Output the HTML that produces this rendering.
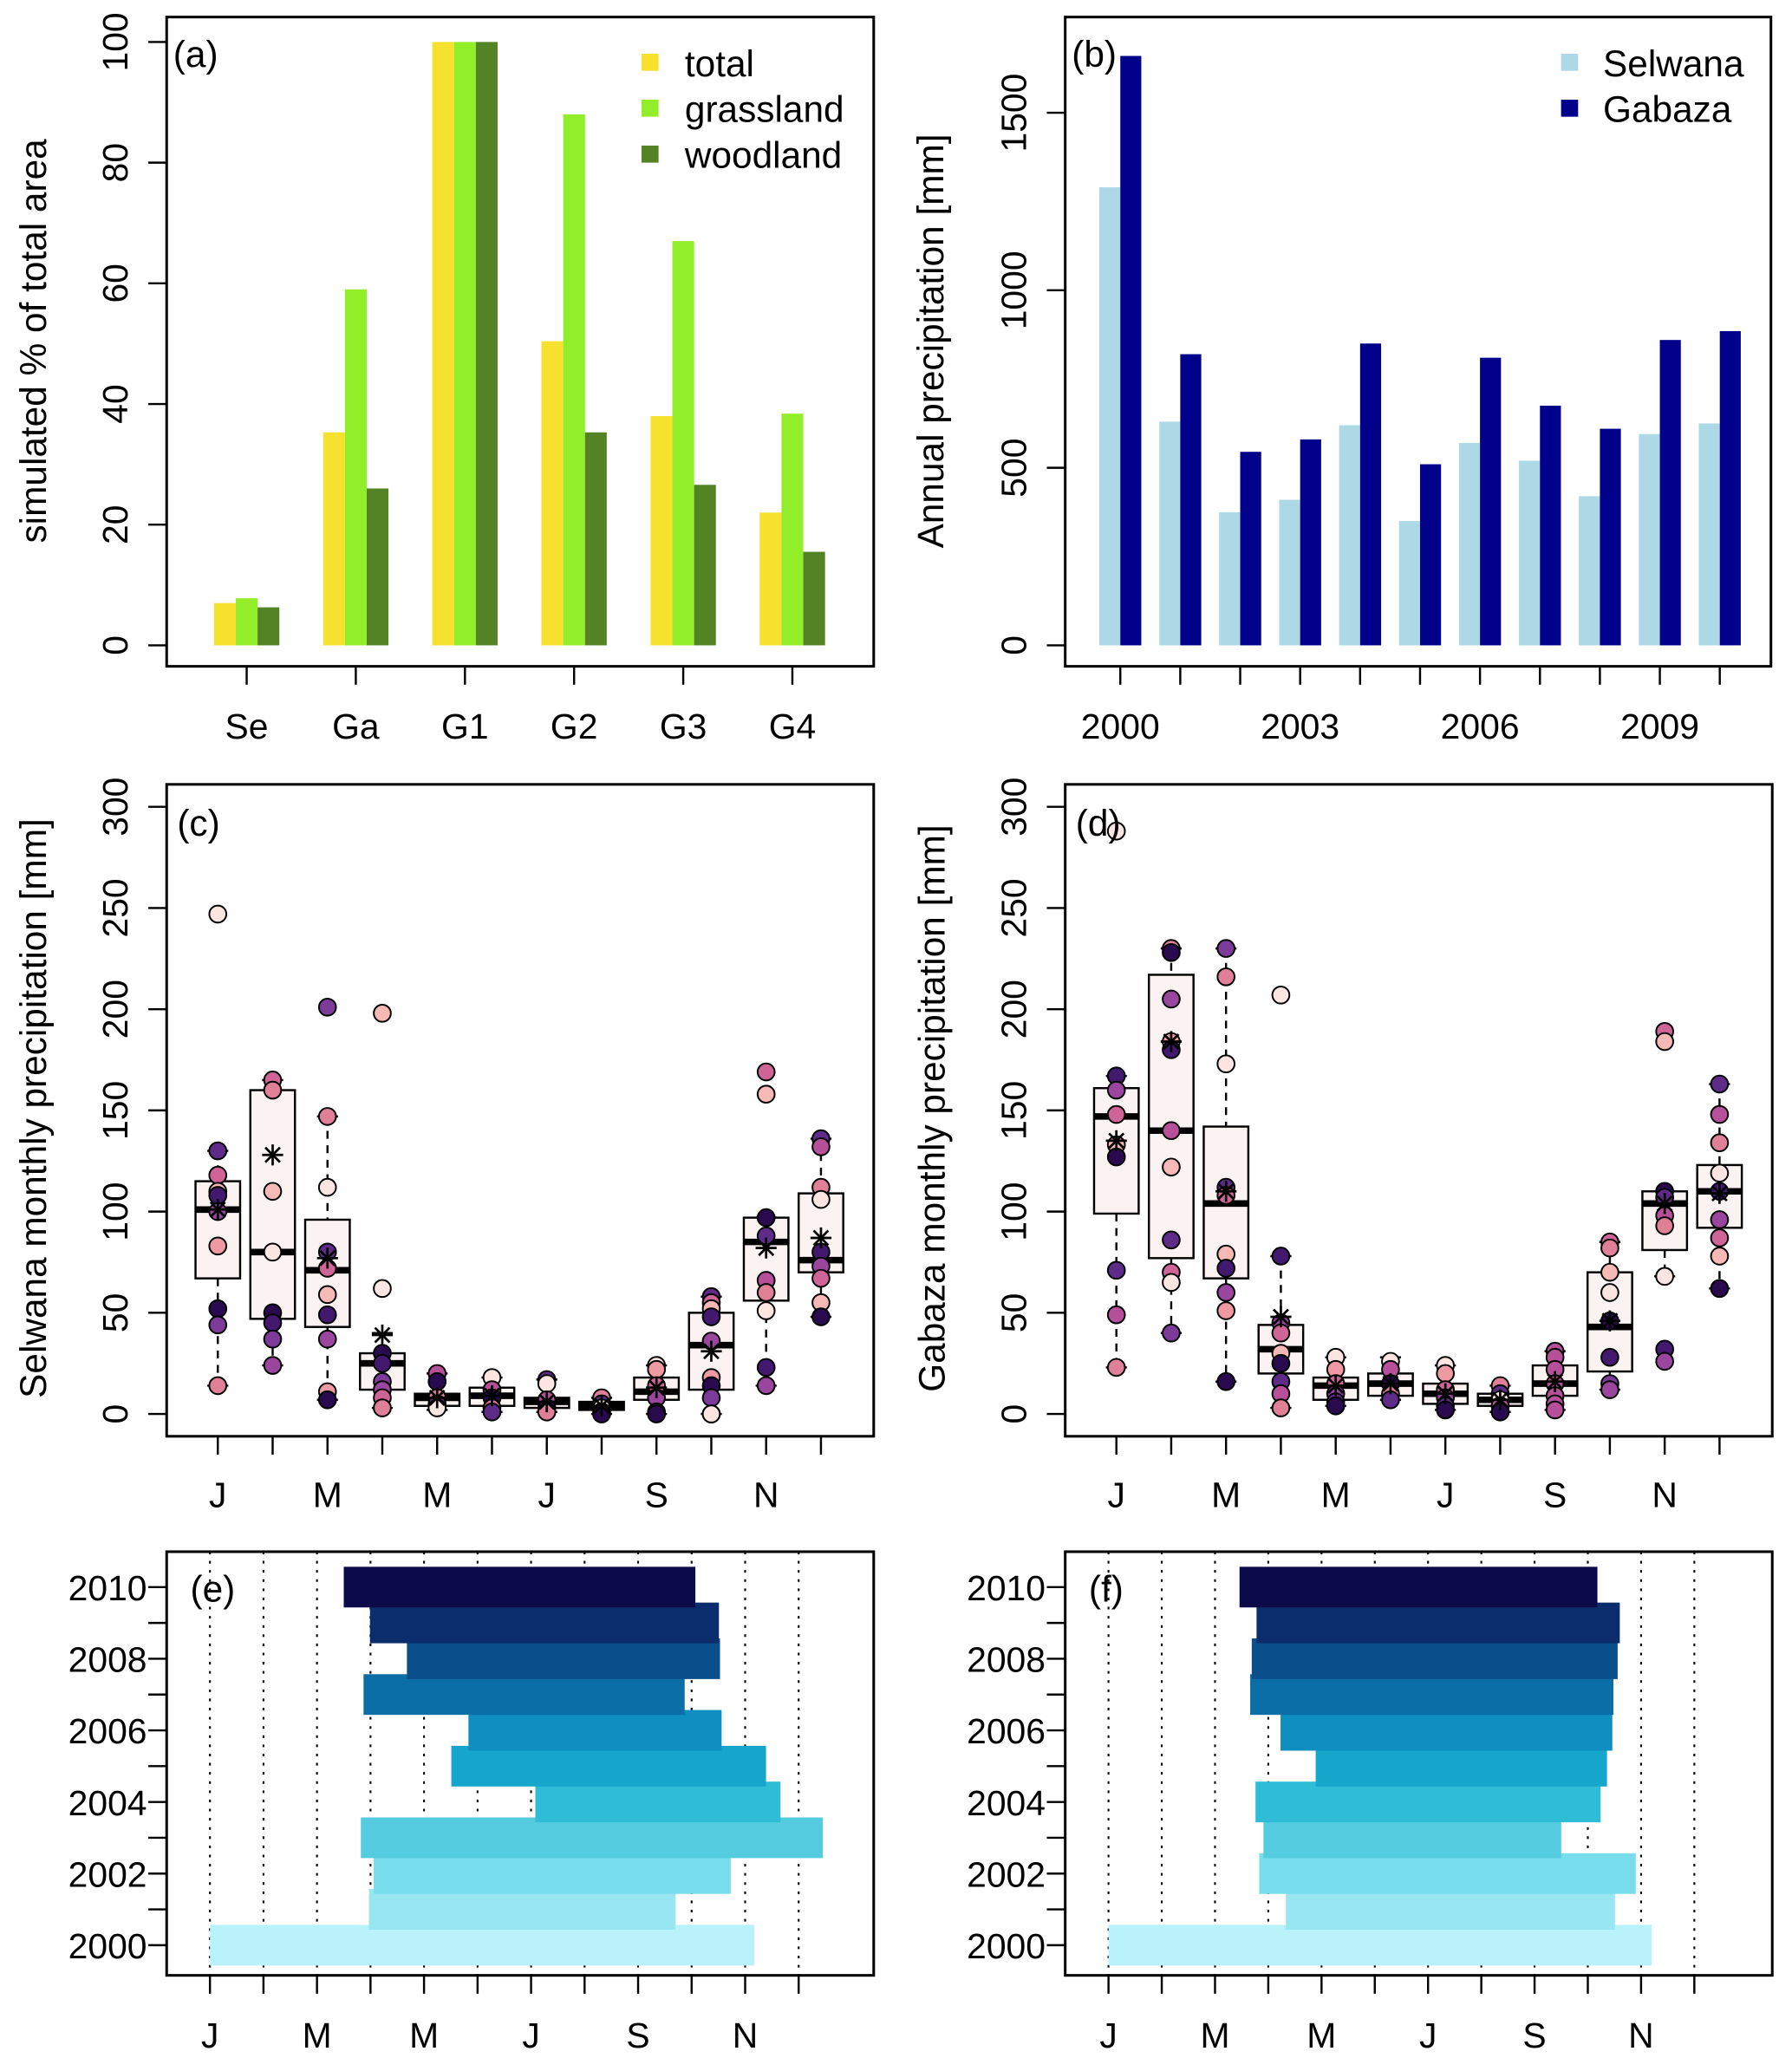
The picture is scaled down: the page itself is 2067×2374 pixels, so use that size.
<!DOCTYPE html>
<html><head><meta charset="utf-8">
<style>
html,body{margin:0;padding:0;background:#fff;}
svg{display:block;font-family:"Liberation Sans",sans-serif;}
</style></head>
<body>
<svg id="fig" width="2067" height="2374" viewBox="0 0 1366 1569" xmlns="http://www.w3.org/2000/svg"></svg>
<script>
// ---------- data ----------
const catA = ["Se","Ga","G1","G2","G3","G4"];
const totalA = [7,35.3,100,50.4,38,22];
const grassA = [7.8,59,100,88,67,38.4];
const woodA = [6.3,26,100,35.3,26.6,15.5];
const yearsB = [2000,2001,2002,2003,2004,2005,2006,2007,2008,2009,2010];
const selwanaB = [1290,630,375,410,620,350,570,520,420,595,625];
const gabazaB = [1660,820,545,580,850,510,810,675,610,860,885];
const monthLabels = ["J","","M","","M","","J","","S","","N",""];
// panel c: per month box stats
const cLo=[14,24,7,3,2,1,1,0,0,0,14,48];
const cQ1=[67,47,43,12,4,4,3,2,7,12,56,70];
const cMed=[101,80,71,25,8,9,6,4,11,34,85,76];
const cQ3=[115,160,96,30,10,13,8,6,18,50,97,109];
const cHi=[130,165,147,40,20,18,17,8,24,58,97,136];
const cMean=[101,128,77,39,8,9,6,4,13,31,82,87];
const cPts=[[247,130,118,110,108,100,83,52,44,14],[165,160,110,80,50,45,37,24],[201,147,112,80,72,59,49,37,11,7],[198,62,30,25,16,12,8,3],[20,16,8,5,3],[18,12,8,3,1],[17,15,7,3,1],[8,5,3,1,0],[24,22,14,8,1,0],[58,55,52,48,36,18,14,8,0,0],[169,158,97,88,66,60,51,23,14],[136,132,112,106,80,73,67,55,48]];
// panel d
const dLo=[23,40,16,3,4,7,2,1,2,12,68,62];
const dQ1=[99,77,67,20,7,9,5,4,9,21,81,92];
const dMed=[147,140,104,32,14,15,10,7,15,43,104,110];
const dQ3=[161,217,142,44,18,20,15,10,24,70,110,123];
const dHi=[167,230,230,78,28,28,24,14,31,85,110,163];
const dMean=[135,184,110,48,14,15,10,7,16,46,104,109];
const dPts=[[288,167,160,148,133,127,71,49,23],[230,228,205,184,180,140,122,86,70,65,40],[230,216,173,112,108,79,72,60,51,16],[207,78,45,40,30,25,16,10,3],[28,22,15,10,6,4],[26,22,15,10,7],[24,20,12,8,4,2],[14,10,7,4,1],[31,28,22,15,9,5,2],[85,82,70,60,46,28,15,12],[189,184,110,107,98,93,68,32,26],[163,148,134,119,110,96,87,78,62]];
// panels e,f: season start/end (months from Jan)
const eStart=[0,2.97,3.06,2.82,6.08,4.51,4.83,2.87,3.68,2.99,2.5];
const eEnd=[10.17,8.7,9.73,11.45,10.66,10.39,9.56,8.87,9.53,9.51,9.07];
const fStart=[0,3.33,2.83,2.91,2.76,3.89,3.23,2.66,2.69,2.78,2.46];
const fEnd=[10.2,9.51,9.9,8.5,9.24,9.36,9.46,9.48,9.56,9.6,9.18];

// ---------- helpers ----------
const NS="http://www.w3.org/2000/svg";
const svg=document.getElementById('fig');
const TS=27, AS=28;
function mk(tag,attrs,parent){const e=document.createElementNS(NS,tag);for(const k in attrs)e.setAttribute(k,attrs[k]);(parent||svg).appendChild(e);return e;}
function txt(s,x,y,size,anchor,rot,parent){const t=mk('text',{x:x,y:y,'font-size':size,'text-anchor':anchor||'middle',fill:'#000'},parent);if(rot)t.setAttribute('transform','rotate(-90 '+x+' '+y+')');t.textContent=s;return t;}
function frame(x0,y0,x1,y1,name){const r=mk('rect',{x:x0,y:y0,width:x1-x0,height:y1-y0,fill:'none',stroke:'#000','stroke-width':2});}
const pinkPal=["#fde6e2","#f6b9b6","#ef9aa3","#e07f98","#cf6596","#b7509a","#9a459e","#7c3b98","#5e2c88","#43196f","#2a0a4e"];
const bluePal=["#b9f2fb","#97e6f1","#77dcec","#55cbdf","#2ebcd6","#16a5cb","#0f8ec0","#0b6ea7","#0a4f8b","#0c2d6c","#0c0a48"];

// ---------- panel a ----------
(function(){
 const g=mk('g',{});
 const y=v=>492-v*4.6; const xc=i=>188+i*83.2; const bw=16.6;
 const cols=["#f5e12e","#93ee2a","#548325"]; const series=[totalA,grassA,woodA]; const sn=['total','grassland','woodland'];
 series.forEach((s,k)=>s.forEach((v,i)=>{const r=mk('rect',{x:xc(i)-bw*1.5+k*bw,y:y(v),width:bw,height:y(0)-y(v),fill:cols[k]},g);
  }));
 frame(127,13,666,508,'panel-a-frame');
 const ya=mk('g',{},g);
 [0,20,40,60,80,100].forEach(v=>{mk('line',{x1:113,x2:127,y1:y(v),y2:y(v),stroke:'#000','stroke-width':1.6},ya);txt(String(v),97,y(v),TS,'middle',true,ya);});
 catA.forEach((c,i)=>{mk('line',{x1:xc(i),x2:xc(i),y1:508,y2:522,stroke:'#000','stroke-width':1.6},g);const t=txt(c,xc(i),563,TS,'middle',false,g);});
 const at=txt('simulated % of total area',35,260,AS,'middle',true,g);
 const pl=txt('(a)',132,51,AS,'start',false,g);
 sn.forEach((n,k)=>{const le=mk('g',{},g);
  mk('rect',{x:489,y:41+k*35,width:13,height:13,fill:cols[k]},le);txt(n,522,58+k*35,AS,'start',false,le);});
})();

// ---------- panel b ----------
(function(){
 const g=mk('g',{});
 const y=v=>492-v*0.2707; const x=yr=>854+(yr-2000)*45.7;
 yearsB.forEach((yr,i)=>{
  let r=mk('rect',{x:x(yr)-16,y:y(selwanaB[i]),width:16,height:y(0)-y(selwanaB[i]),fill:'#add8e6'},g);
  
  r=mk('rect',{x:x(yr),y:y(gabazaB[i]),width:16,height:y(0)-y(gabazaB[i]),fill:'#00008b'},g);
  
  mk('line',{x1:x(yr),x2:x(yr),y1:508,y2:522,stroke:'#000','stroke-width':1.6},g);
  if((yr-2000)%3===0)txt(String(yr),x(yr),563,TS,'middle',false,g);
 });
 frame(812,13,1350,508,'panel-b-frame');
 [0,500,1000,1500].forEach(v=>{mk('line',{x1:798,x2:812,y1:y(v),y2:y(v),stroke:'#000','stroke-width':1.6},g);txt(String(v),782,y(v),TS,'middle',true,g);});
 const at=txt('Annual precipitation [mm]',719,260,AS,'middle',true,g);
 const pl=txt('(b)',817,51,AS,'start',false,g);
 [['Selwana','#add8e6'],['Gabaza','#00008b']].forEach((e,k)=>{const le=mk('g',{},g);
  mk('rect',{x:1190,y:41+k*35,width:13,height:13,fill:e[1]},le);txt(e[0],1222,58+k*35,AS,'start',false,le);});
})();

// ---------- panels c,d ----------
function boxPanel(ox,lo,q1,med,q3,hi,mean,pts,tag,title){
 const g=mk('g',{});
 const y=v=>1078-v*1.543; const x=i=>ox+39+i*41.8; const bw=17;
 for(let i=0;i<12;i++){
  const bg=mk('g',{},g);
  mk('line',{x1:x(i),x2:x(i),y1:y(hi[i]),y2:y(q3[i]),stroke:'#000','stroke-width':1.6,'stroke-dasharray':'6,5'},bg);
  mk('line',{x1:x(i),x2:x(i),y1:y(q1[i]),y2:y(lo[i]),stroke:'#000','stroke-width':1.6,'stroke-dasharray':'6,5'},bg);
  mk('line',{x1:x(i)-8,x2:x(i)+8,y1:y(hi[i]),y2:y(hi[i]),stroke:'#000','stroke-width':1.6},bg);
  mk('line',{x1:x(i)-8,x2:x(i)+8,y1:y(lo[i]),y2:y(lo[i]),stroke:'#000','stroke-width':1.6},bg);
  mk('rect',{x:x(i)-bw,y:y(q3[i]),width:2*bw,height:y(q1[i])-y(q3[i]),fill:'#fbf3f2',stroke:'#000','stroke-width':1.6},bg);
  mk('line',{x1:x(i)-bw,x2:x(i)+bw,y1:y(med[i]),y2:y(med[i]),stroke:'#000','stroke-width':5},bg);
  const n=pts[i].length;
  pts[i].forEach((v,k)=>{const ci=Math.round(((k*7+i*3)%n)/Math.max(1,n-1)*10);
   const c=mk('circle',{cx:x(i),cy:y(v),r:6.5,fill:pinkPal[ci],stroke:'#000','stroke-width':1.3},bg);
   });
  const my=y(mean[i]),mx=x(i),s=8;
  const mg=mk('g',{stroke:'#000','stroke-width':1.8},bg);
  mk('line',{x1:mx-s,x2:mx+s,y1:my,y2:my},mg);mk('line',{x1:mx,x2:mx,y1:my-s,y2:my+s},mg);
  mk('line',{x1:mx-s*.7,x2:mx+s*.7,y1:my-s*.7,y2:my+s*.7},mg);mk('line',{x1:mx-s*.7,x2:mx+s*.7,y1:my+s*.7,y2:my-s*.7},mg);
  mk('line',{x1:x(i),x2:x(i),y1:1095,y2:1109,stroke:'#000','stroke-width':1.6},g);
  if(monthLabels[i])txt(monthLabels[i],x(i),1149,TS,'middle',false,g);
 }
 frame(ox,598,ox+539,1095,'panel-'+tag+'-frame');
 [0,50,100,150,200,250,300].forEach(v=>{mk('line',{x1:ox-14,x2:ox,y1:y(v),y2:y(v),stroke:'#000','stroke-width':1.6},g);txt(String(v),ox-30,y(v),TS,'middle',true,g);});
 const at=txt(title,ox-92,845,AS,'middle',true,g);
 const pl=txt('('+tag+')',ox+8,637,AS,'start',false,g);
}
boxPanel(127,cLo,cQ1,cMed,cQ3,cHi,cMean,cPts,'c','Selwana monthly precipitation [mm]');
boxPanel(812,dLo,dQ1,dMed,dQ3,dHi,dMean,dPts,'d','Gabaza monthly precipitation [mm]');

// ---------- panels e,f ----------
function seasonPanel(ox,x0,dx,st,en,tag){
 const g=mk('g',{});
 const x=m=>x0+m*dx; const y=yr=>1210+(2010-yr)*27.3;
 for(let m=0;m<12;m++)mk('line',{x1:x(m),x2:x(m),y1:1183,y2:1506,stroke:'#000','stroke-width':1.4,'stroke-dasharray':'2,5'},g);
 yearsB.forEach((yr,i)=>{const r=mk('rect',{x:x(st[i]),y:y(yr)-15.5,width:x(en[i])-x(st[i]),height:31,fill:bluePal[i]},g);
  });
 frame(ox,1183,ox+539,1506,'panel-'+tag+'-frame');
 yearsB.forEach(yr=>{mk('line',{x1:ox-14,x2:ox,y1:y(yr),y2:y(yr),stroke:'#000','stroke-width':1.6},g);
  if(yr%2===0)txt(String(yr),ox-15,y(yr)+10,TS,'end',false,g);});
 for(let m=0;m<12;m++){mk('line',{x1:x(m),x2:x(m),y1:1506,y2:1520,stroke:'#000','stroke-width':1.6},g);
  if(monthLabels[m])txt(monthLabels[m],x(m),1561,TS,'middle',false,g);}
 const pl=txt('('+tag+')',ox+18,1221,AS,'start',false,g);
}
seasonPanel(127,160,40.8,eStart,eEnd,'e');
seasonPanel(812,845,40.6,fStart,fEnd,'f');
</script>
</body></html>
